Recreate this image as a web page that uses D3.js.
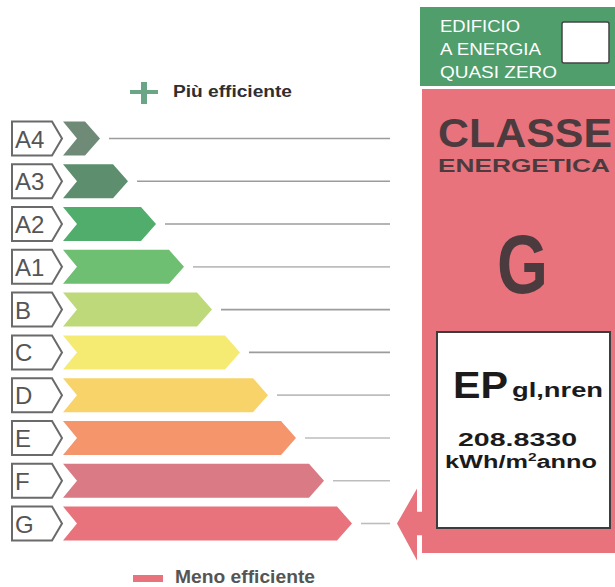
<!DOCTYPE html>
<html>
<head>
<meta charset="utf-8">
<script src="https://cdn.jsdelivr.net/npm/d3@7"></script>
<style>
  html, body { margin: 0; padding: 0; background: #fff; }
  svg { display: block; font-family: "Liberation Sans", Arial, sans-serif; }
</style>
</head>
<body>
<div id="chart"></div>
<script>
// Energy classes, best to worst
const classes = ["A4", "A3", "A2", "A1", "B", "C", "D", "E", "F", "G"];
const palette = ["#6f8b78", "#5d8f6f", "#50ad6c", "#6ebf72", "#bdd97a", "#f6eb72", "#f8d36a", "#f4956b", "#d97a84", "#e8737c"];

// Certificate values
const currentClass = "G";
const epValue = 208.8330;
const nzebLines = ["EDIFICIO", "A ENERGIA", "QUASI ZERO"];
const titleLines = ["CLASSE", "ENERGETICA"];
const topLabel = "Più efficiente";
const bottomLabel = "Meno efficiente";

const width = 615, height = 587;
const rowH = 34;

const color = d3.scaleOrdinal(classes, palette);

const svg = d3.select("#chart")
    .append("svg")
    .attr("width", width)
    .attr("height", height);

// rows: centre of each class band
const y = d3.scalePoint().domain(classes).range([138.5, 523.5]);
// arrow tip position grows with class rank
const x = d3.scaleLinear().domain([0, classes.length - 1]).range([100, 352]);

// ========== SCALE ARROWS ========== //
const rows = svg.selectAll("g.row")
    .data(classes)
    .enter()
    .append("g")
    .attr("class", "row")
    .attr("transform", d => `translate(0,${y(d)})`);

// label box (pentagon)
rows.append("path")
    .attr("d", `M12,${-rowH / 2}L52,${-rowH / 2}L62,0L52,${rowH / 2}L12,${rowH / 2}Z`)
    .attr("fill", "#fff")
    .attr("stroke", "#6a6a6a")
    .attr("stroke-width", 2);

rows.append("text")
    .attr("x", 15)
    .attr("y", 9)
    .style("font-size", "24px")
    .style("fill", "#555")
    .text(d => d);

// coloured chevron arrow
rows.append("path")
    .attr("d", (d, i) => {
        const tip = x(i), h = rowH / 2;
        return `M63,${-h}L${tip - 15},${-h}L${tip},0L${tip - 15},${h}L63,${h}L77,0Z`;
    })
    .attr("fill", d => color(d));

// guide line to the right
rows.append("line")
    .attr("x1", (d, i) => x(i) + 9)
    .attr("x2", 390)
    .attr("y1", 0)
    .attr("y2", 0)
    .attr("stroke", (d, i) => [0, 1, 2, 4, 5].includes(i) ? "#9c9c9c" : "#bdbdbd")
    .attr("stroke-width", 1.6);

// ========== TOP / BOTTOM LEGEND ========== //
svg.append("rect").attr("x", 130).attr("y", 90).attr("width", 28).attr("height", 4).attr("fill", "#6aa586");
svg.append("rect").attr("x", 141).attr("y", 82).attr("width", 6).attr("height", 22).attr("fill", "#6aa586");
svg.append("text")
    .attr("x", 173).attr("y", 97)
    .attr("textLength", 119).attr("lengthAdjust", "spacingAndGlyphs")
    .style("font-size", "16px").style("font-weight", "bold").style("fill", "#2f2f2f")
    .text(topLabel);

svg.append("rect").attr("x", 133).attr("y", 575).attr("width", 30).attr("height", 7).attr("fill", color("G"));
svg.append("text")
    .attr("x", 175).attr("y", 583)
    .attr("textLength", 140).attr("lengthAdjust", "spacingAndGlyphs")
    .style("font-size", "19px").style("font-weight", "bold").style("fill", "#555")
    .text(bottomLabel);

// ========== NZEB BOX ========== //
svg.append("rect").attr("x", 420).attr("y", 7).attr("width", 200).attr("height", 79).attr("fill", "#4f9e6c");
const nzebLen = [80, 101, 117];
svg.selectAll("text.nzeb")
    .data(nzebLines)
    .enter()
    .append("text")
    .attr("class", "nzeb")
    .attr("x", 440)
    .attr("y", (d, i) => 32 + i * 23)
    .attr("textLength", (d, i) => nzebLen[i]).attr("lengthAdjust", "spacingAndGlyphs")
    .style("font-size", "17px").style("fill", "#fff")
    .text(d => d);
svg.append("rect")
    .attr("x", 562).attr("y", 22).attr("width", 47).attr("height", 41).attr("rx", 2)
    .attr("fill", "#fff").attr("stroke", "#444").attr("stroke-width", 1.5);

// ========== CLASS PANEL ========== //
const panelColor = color(currentClass);
svg.append("rect").attr("x", 422).attr("y", 89).attr("width", 200).attr("height", 464).attr("fill", panelColor);

svg.append("text")
    .attr("x", 438).attr("y", 147)
    .attr("textLength", 174).attr("lengthAdjust", "spacingAndGlyphs")
    .style("font-size", "40px").style("font-weight", "bold").style("fill", "#4b3a3e")
    .text(titleLines[0]);
svg.append("text")
    .attr("x", 438).attr("y", 172)
    .attr("textLength", 172).attr("lengthAdjust", "spacingAndGlyphs")
    .style("font-size", "18px").style("font-weight", "bold").style("fill", "#4b3a3e")
    .text(titleLines[1]);
svg.append("text")
    .attr("x", 497).attr("y", 293)
    .attr("textLength", 51).attr("lengthAdjust", "spacingAndGlyphs")
    .style("font-size", "83px").style("font-weight", "bold").style("fill", "#4b3a3e")
    .text(currentClass);

// white value box
svg.append("rect")
    .attr("x", 437).attr("y", 332).attr("width", 173).attr("height", 196)
    .attr("fill", "#fff").attr("stroke", "#3c3c3c").attr("stroke-width", 2);

svg.append("text")
    .attr("x", 453).attr("y", 398)
    .attr("textLength", 55).attr("lengthAdjust", "spacingAndGlyphs")
    .style("font-size", "37px").style("font-weight", "bold").style("fill", "#1b1b1b")
    .text("EP");
svg.append("text")
    .attr("x", 512).attr("y", 397)
    .attr("textLength", 91).attr("lengthAdjust", "spacingAndGlyphs")
    .style("font-size", "20px").style("font-weight", "bold").style("fill", "#1b1b1b")
    .text("gl,nren");

svg.append("text")
    .attr("x", 458).attr("y", 446)
    .attr("textLength", 119).attr("lengthAdjust", "spacingAndGlyphs")
    .style("font-size", "19px").style("font-weight", "bold").style("fill", "#1b1b1b")
    .text(d3.format(".4f")(epValue));

const unit = svg.append("text")
    .attr("x", 445).attr("y", 468)
    .attr("textLength", 152).attr("lengthAdjust", "spacingAndGlyphs")
    .style("font-size", "18px").style("font-weight", "bold").style("fill", "#1b1b1b");
unit.append("tspan").text("kWh/m");
unit.append("tspan").attr("dy", -7).style("font-size", "11px").text("2");
unit.append("tspan").attr("dy", 7).text("anno");

// pointer arrow toward the current class row
const ay = y(currentClass);
svg.append("path")
    .attr("d", `M397,${ay}L417,${ay - 35}L417,${ay - 12}L424,${ay - 12}L424,${ay + 12}L417,${ay + 12}L417,${ay + 37}Z`)
    .attr("fill", panelColor);
svg.append("rect").attr("x", 417).attr("y", ay - 35).attr("width", 5).attr("height", 23).attr("fill", "#fff");
svg.append("rect").attr("x", 417).attr("y", ay + 12).attr("width", 5).attr("height", 25).attr("fill", "#fff");
</script>
</body>
</html>
